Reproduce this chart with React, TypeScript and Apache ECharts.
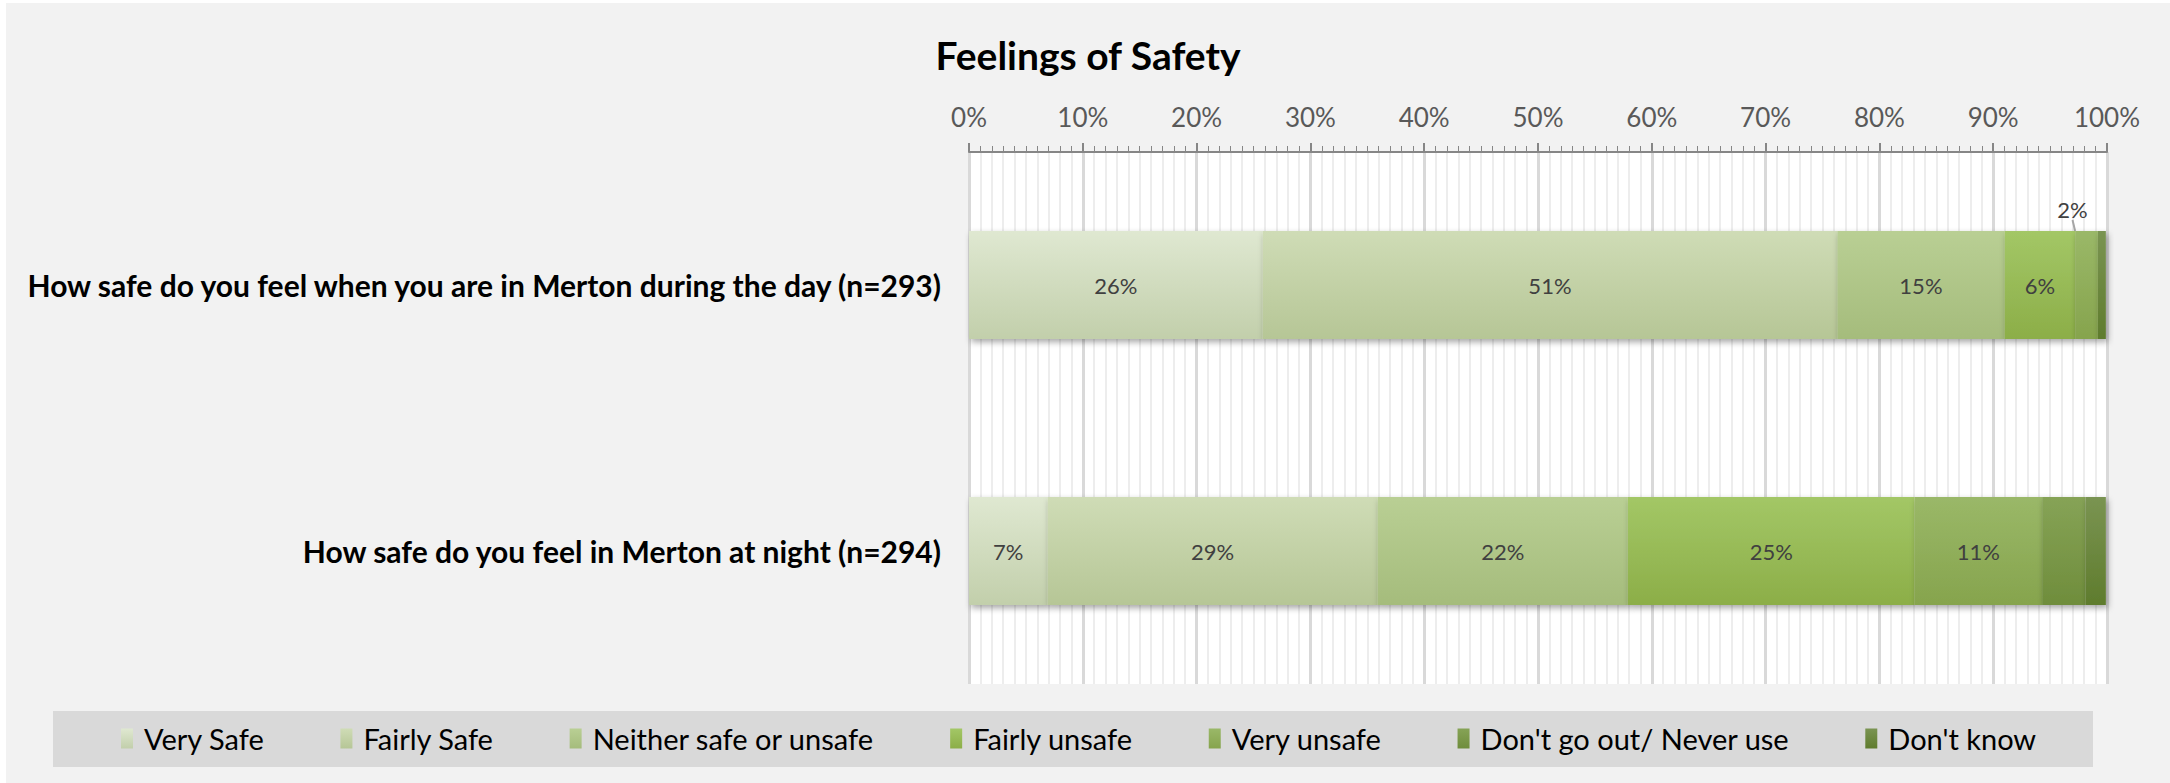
import React, { useEffect, useRef } from "react";
import * as echarts from "echarts";

const categories = [
  "How safe do you feel when you are in Merton during the day (n=293)",
  "How safe do you feel in Merton at night (n=294)",
];
const seriesNames = [
  "Very Safe",
  "Fairly Safe",
  "Neither safe or unsafe",
  "Fairly unsafe",
  "Very unsafe",
  "Don't go out/ Never use",
  "Don't know",
];
const verySafe = [25.8, 6.9];
const fairlySafe = [50.5, 29.0];
const neither = [14.7, 22.0];
const fairlyUnsafe = [6.2, 25.2];
const veryUnsafe = [2.0, 11.2];
const dontGoOut = [0, 3.8];
const dontKnow = [0.7, 1.8];
const seriesValues = [verySafe, fairlySafe, neither, fairlyUnsafe, veryUnsafe, dontGoOut, dontKnow];

const topColors = ["#dfe8d1", "#cfdcb6", "#b9cf94", "#a3c766", "#9ab868", "#86a356", "#7a9452"];
const bottomColors = ["#c2cfab", "#b6c696", "#a5bc7c", "#8cae48", "#86a44d", "#6f8d3c", "#5f7c2d"];

const FONT = "Lato, 'Liberation Sans', sans-serif";

export default function App() {
  const ref = useRef<HTMLDivElement>(null);
  useEffect(() => {
    document.body.style.margin = "0";
    const chart = echarts.init(ref.current!, undefined, { renderer: "svg" });
    const series = seriesNames.map((name, si) => ({
      name,
      type: "bar",
      stack: "total",
      barWidth: 108,
      itemStyle: {
        color: new echarts.graphic.LinearGradient(0, 0, 0, 1, [
          { offset: 0, color: topColors[si] },
          { offset: 1, color: bottomColors[si] },
        ]),
        shadowColor: "rgba(0,0,0,0.35)",
        shadowBlur: 6,
        shadowOffsetX: 2,
        shadowOffsetY: 3,
      },
      label: {
        show: true,
        position: "inside",
        color: "#404040",
        fontSize: 22,
        fontFamily: FONT,
        formatter: (p: any) => Math.round(p.value) + "%",
      },
      labelLine: { show: si === 4, lineStyle: { color: "#a6a6a6", width: 2 } },
      labelLayout:
        si === 4
          ? (p: any) =>
              p.dataIndex === 0
                ? { x: p.rect.x + p.rect.width / 2 - 14, y: p.rect.y - 22, align: "center", verticalAlign: "middle" }
                : {}
          : undefined,
      data: seriesValues[si].map((v, di) => {
        if (si === 4 && di === 0) {
          return {
            value: v,
            label: { show: true },
            labelLine: { show: true },
          };
        }
        return { value: v, label: { show: v >= 5 }, labelLine: { show: false } };
      }),
    }));

    chart.setOption({
      animation: false,
      backgroundColor: "transparent",
      title: {
        text: "Feelings of Safety",
        left: "center",
        top: 27,
        textStyle: { fontSize: 39, fontWeight: "bold", color: "#000", fontFamily: FONT },
      },
      graphic: [
        {
          type: "rect",
          shape: { x: 47, y: 708, width: 2040, height: 56 },
          style: { fill: "#d9d9d9" },
          z: -10,
        },
      ],
      legend: {
        data: seriesNames,
        left: 110,
        top: 716,
        itemWidth: 12,
        itemHeight: 20,
        itemGap: 76,
        icon: "rect",
        textStyle: { fontSize: 29, color: "#000", fontFamily: FONT, padding: [0, 0, 0, 6] },
      },
      grid: {
        left: 963,
        right: 63,
        top: 149,
        bottom: 99,
        show: true,
        backgroundColor: "#ffffff",
        borderWidth: 0,
      },
      xAxis: {
        type: "value",
        position: "top",
        min: 0,
        max: 100,
        interval: 10,
        axisLine: { show: true, lineStyle: { color: "#868686", width: 2 } },
        axisTick: { show: true, length: 9, lineStyle: { color: "#868686", width: 2 } },
        minorTick: { show: true, splitNumber: 10, length: 6, lineStyle: { color: "#868686", width: 1 } },
        splitLine: { show: true, lineStyle: { color: "#d9d9d9", width: 3 } },
        minorSplitLine: { show: true, lineStyle: { color: "#ededed", width: 2 } },
        axisLabel: {
          formatter: "{value}%",
          color: "#595959",
          fontSize: 26,
          fontFamily: FONT,
          margin: 22,
        },
      },
      yAxis: {
        type: "category",
        inverse: true,
        data: categories,
        axisLine: { show: false },
        axisTick: { show: false },
        axisLabel: {
          color: "#000",
          fontSize: 30,
          fontWeight: "bold",
          fontFamily: FONT,
          margin: 28,
        },
      },
      series,
    });
    return () => chart.dispose();
  }, []);
  return (
    <div style={{ width: 2170, height: 783, background: "#ffffff", position: "relative" }}>
      <div
        style={{ position: "absolute", left: 6, top: 3, width: 2164, height: 780, background: "#f2f2f2" }}
      >
        <div ref={ref} style={{ width: 2164, height: 780 }} />
      </div>
    </div>
  );
}
